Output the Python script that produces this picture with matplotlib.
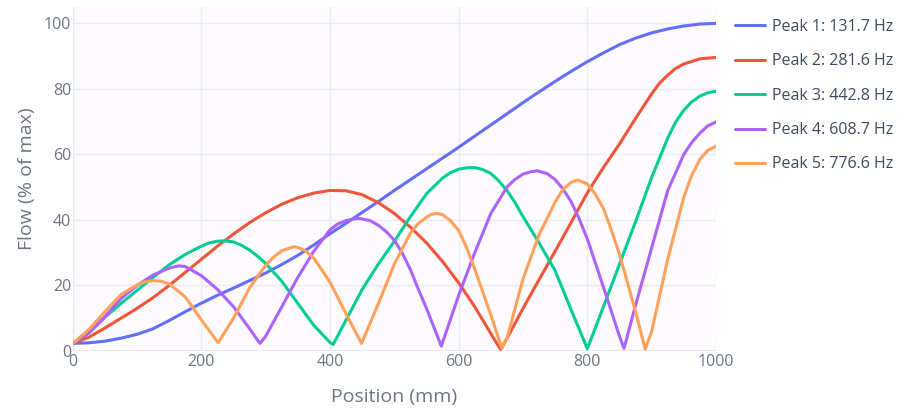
import matplotlib
matplotlib.use("Agg")
import matplotlib.pyplot as plt

# Flow profiles (position in mm, flow in % of max)
x_p1 = list(range(0, 1001, 25))
y_p1 = [2.3, 2.5, 3.0, 3.9, 5.1, 6.8, 9.3, 12.0, 14.6, 17.0, 19.2, 21.5, 23.8, 26.4,
        29.2, 32.4, 35.8, 39.0, 42.3, 45.6, 49.0, 52.3, 55.6, 58.9, 62.2, 65.6, 69.0,
        72.4, 75.8, 79.1, 82.3, 85.4, 88.3, 91.0, 93.5, 95.5, 97.1, 98.3, 99.2, 99.8, 100.0]

x_p2 = (list(range(0, 651, 25)) + [665] + list(range(675, 901, 25))
        + [912, 925, 937, 950, 975, 1000])
y_p2 = [2.3, 4.2, 7.0, 10.0, 13.0, 16.3, 20.0, 24.0, 28.0, 32.0, 35.7, 39.2, 42.2, 44.8,
        46.8, 48.2, 49.0, 48.9, 47.7, 45.3, 42.0, 37.8, 33.0, 27.3, 20.8, 13.5, 5.3,
        0.5, 3.8, 13.0, 21.8, 30.5, 39.3, 48.3, 56.0, 63.2, 71.0, 78.5, 81.7, 84.2,
        86.2, 87.6, 89.2, 89.6]

x_p3 = [0, 25, 50, 75, 100, 125, 150, 175, 200, 212, 225, 237, 250, 262, 275, 287,
        300, 325, 350, 375, 400, 405, 425, 450, 475, 500, 525, 550, 575, 587, 600,
        612, 625, 637, 650, 662, 675, 687, 700, 725, 750, 775, 800, 825, 850, 875,
        900, 925, 937, 950, 962, 975, 987, 1000]
y_p3 = [2.3, 5.5, 10.3, 14.5, 18.5, 22.5, 26.3, 29.5, 32.0, 33.0, 33.5, 33.6, 33.3, 32.3,
        30.8, 29.0, 26.7, 21.3, 14.5, 7.8, 2.6, 2.0, 9.5, 18.8, 26.5, 33.5, 41.0, 48.0,
        52.8, 54.4, 55.5, 55.9, 56.0, 55.4, 54.2, 52.0, 49.0, 45.5, 41.0, 33.0, 24.5,
        12.5, 0.7, 13.5, 26.5, 39.5, 53.0, 65.0, 69.8, 73.5, 76.0, 77.8, 78.8, 79.3]

x_p4 = [0, 25, 50, 75, 100, 125, 150, 165, 175, 200, 225, 250, 275, 291, 300, 325,
        350, 375, 400, 412, 425, 443, 450, 462, 475, 487, 500, 512, 525, 537, 550,
        573, 600, 625, 650, 675, 687, 700, 712, 722, 737, 750, 762, 775, 787, 800,
        825, 850, 857, 875, 900, 925, 950, 962, 975, 987, 1000]
y_p4 = [2.3, 5.5, 10.5, 16.0, 20.0, 23.2, 25.3, 26.0, 25.8, 23.0, 18.8, 13.5, 6.8, 2.3,
        4.5, 13.5, 22.5, 30.5, 37.0, 38.8, 39.8, 40.5, 40.3, 39.8, 38.4, 36.5, 33.8,
        30.0, 24.8, 19.0, 13.0, 1.5, 17.0, 30.0, 42.0, 50.0, 52.3, 54.0, 54.7, 55.0,
        54.2, 52.3, 49.5, 45.5, 40.5, 34.2, 19.5, 4.5, 0.8, 14.0, 31.5, 49.0, 60.0,
        63.6, 66.5, 68.7, 69.9]

x_p5 = [0, 25, 50, 75, 100, 112, 125, 137, 150, 175, 200, 226, 250, 275, 300, 312,
        325, 343, 350, 362, 375, 400, 425, 449, 475, 500, 525, 537, 550, 557, 566,
        575, 587, 600, 612, 625, 650, 667, 675, 700, 725, 750, 762, 775, 785, 800,
        812, 825, 837, 850, 875, 890, 900, 925, 950, 962, 975, 987, 1000]
y_p5 = [2.3, 6.5, 12.0, 17.2, 20.2, 21.1, 21.5, 21.3, 20.5, 16.5, 9.5, 2.5, 10.0, 19.3,
        26.2, 28.6, 30.6, 31.8, 31.6, 30.6, 28.3, 21.0, 11.3, 2.3, 14.4, 26.5, 36.0,
        38.9, 40.8, 41.7, 42.0, 41.6, 39.8, 36.8, 31.7, 25.0, 11.0, 0.8, 3.8, 22.0,
        35.5, 45.5, 49.3, 51.5, 52.2, 51.0, 48.0, 43.5, 37.1, 29.5, 12.0, 0.5, 6.0,
        28.0, 47.0, 53.5, 58.5, 61.2, 62.5]

labels = ["Peak 1: 131.7 Hz", "Peak 2: 281.6 Hz", "Peak 3: 442.8 Hz",
          "Peak 4: 608.7 Hz", "Peak 5: 776.6 Hz"]
colors = ["#636EFA", "#EF553B", "#00CC96", "#AB63FA", "#FFA15A"]
series = [(x_p1, y_p1), (x_p2, y_p2), (x_p3, y_p3), (x_p4, y_p4), (x_p5, y_p5)]

plt.rcParams["font.family"] = ["Open Sans", "DejaVu Sans"]
tick_color = "#6b7585"
grid_color = "#ebebf0"

fig = plt.figure(figsize=(8.98, 4.09), dpi=100)
fig.patch.set_facecolor("white")
ax = fig.add_axes([72.7 / 898, 58 / 409, 643.3 / 898, 344 / 409])
ax.set_facecolor("#fdfbfe")

for (xs, ys), label, color in zip(series, labels, colors):
    ax.plot(xs, ys, color=color, linewidth=2.2, label=label,
            solid_joinstyle="round", solid_capstyle="round", zorder=3)

ax.set_xlim(0, 1000)
ax.set_ylim(0, 105)
ax.set_xticks([0, 200, 400, 600, 800, 1000])
ax.set_yticks([0, 20, 40, 60, 80, 100])
ax.grid(True, color=grid_color, linewidth=1.0, zorder=0)
ax.set_axisbelow(True)
ax.axhline(0, color="#e6e6ec", linewidth=2.0, zorder=1)
ax.axvline(0, color="#e6e6ec", linewidth=1.5, zorder=1)
for s in ax.spines.values():
    s.set_visible(False)
ax.tick_params(axis="both", length=0, labelsize=11.5, labelcolor=tick_color)
ax.tick_params(axis="y", pad=1)
ax.tick_params(axis="x", pad=2)

ax.set_xlabel("Position (mm)", fontsize=14, color=tick_color, labelpad=13)
ax.set_ylabel("Flow (% of max)", fontsize=14, color=tick_color, labelpad=6)

leg = ax.legend(loc="upper left", bbox_to_anchor=(735 / 898, 1 - 19 / 409),
                bbox_transform=fig.transFigure, frameon=False, fontsize=11.5,
                handlelength=1.9, handletextpad=0.4, labelspacing=1.15,
                borderpad=0, borderaxespad=0)
for t in leg.get_texts():
    t.set_color("#3d4b60")
for h in leg.get_lines():
    h.set_linewidth(2.2)

fig.savefig("out.png", dpi=100, facecolor="white")
